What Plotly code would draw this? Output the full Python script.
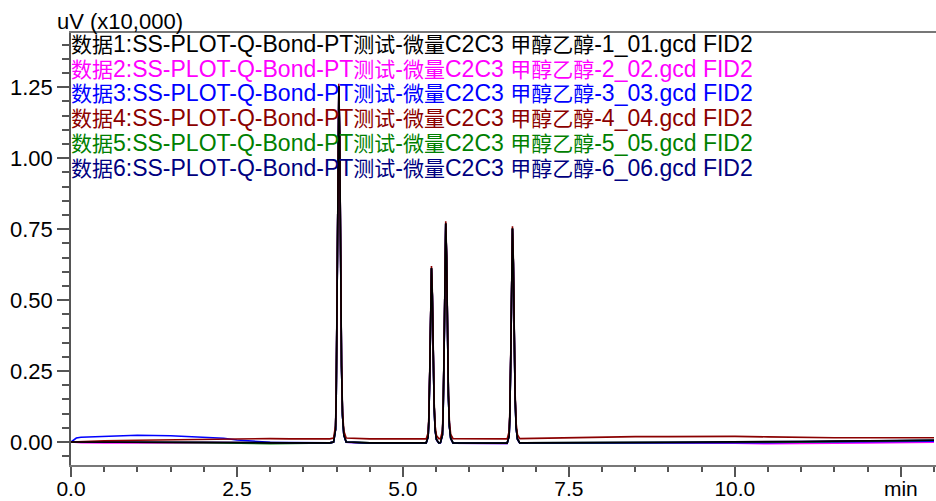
import plotly.graph_objects as go

# Retention times (min), shared by all six traces
times = [
    0.0, 0.08, 0.15, 0.5, 1.0, 1.5, 2.0, 2.3, 2.5, 2.8, 3.0, 3.3, 3.6, 3.9,
    3.955, 3.985, 3.995, 4.010, 4.023, 4.035, 4.048, 4.061, 4.075, 4.090, 4.110, 4.145,
    4.5, 5.0, 5.3,
    5.350, 5.380, 5.390, 5.405, 5.418, 5.430, 5.443, 5.456, 5.470, 5.485, 5.505, 5.540,
    5.565, 5.595, 5.605, 5.620, 5.633, 5.645, 5.658, 5.671, 5.685, 5.700, 5.720, 5.755,
    6.0, 6.3, 6.55,
    6.570, 6.600, 6.610, 6.625, 6.638, 6.650, 6.663, 6.676, 6.690, 6.705, 6.725, 6.760,
    7.0, 7.5, 8.0, 8.5, 9.0, 9.5, 10.0, 10.5, 11.0, 11.5, 12.0, 12.5, 13.0,
]

# Signal (uV x10,000)
data1 = [
    0.0, 0.0, 0.0, 0.0, 0.0, 0.0, -0.001, -0.001, -0.002, -0.002, -0.003, -0.003, -0.003, -0.003,
    0.000, 0.044, 0.157, 0.521, 1.022, 1.254, 1.060, 0.621, 0.270, 0.094, 0.025, 0.000,
    -0.003, -0.003, -0.003,
    -0.003, 0.019, 0.074, 0.251, 0.497, 0.613, 0.515, 0.301, 0.129, 0.043, 0.009, -0.003,
    -0.002, 0.025, 0.094, 0.318, 0.626, 0.771, 0.649, 0.380, 0.164, 0.056, 0.013, -0.003,
    -0.004, -0.004, -0.004,
    -0.004, 0.022, 0.090, 0.308, 0.609, 0.753, 0.632, 0.369, 0.158, 0.052, 0.011, -0.003,
    -0.003, -0.003, -0.002, -0.002, -0.001, 0.0, 0.0, 0.001, 0.002, 0.003, 0.004, 0.005, 0.006,
]
data2 = [
    0.0, -0.001, -0.002, -0.003, -0.004, -0.003, -0.002, -0.002, -0.002, -0.002, -0.003, -0.003, -0.003, -0.003,
    0.000, 0.043, 0.155, 0.518, 1.019, 1.250, 1.058, 0.620, 0.268, 0.093, 0.024, -0.001,
    -0.004, -0.004, -0.004,
    -0.004, 0.018, 0.073, 0.249, 0.495, 0.610, 0.513, 0.300, 0.128, 0.042, 0.008, -0.004,
    -0.003, 0.024, 0.093, 0.316, 0.624, 0.768, 0.647, 0.378, 0.163, 0.055, 0.012, -0.004,
    -0.005, -0.005, -0.005,
    -0.005, 0.021, 0.089, 0.306, 0.607, 0.750, 0.630, 0.367, 0.157, 0.051, 0.010, -0.004,
    -0.004, -0.004, -0.003, -0.003, -0.003, -0.003, -0.004, -0.006, -0.006, -0.004, -0.003, -0.002, -0.001,
]
data3 = [
    0.0, 0.014, 0.017, 0.019, 0.024, 0.022, 0.018, 0.013, 0.007, 0.001, -0.001, -0.002, -0.003, -0.003,
    0.000, 0.044, 0.156, 0.520, 1.020, 1.251, 1.059, 0.620, 0.269, 0.093, 0.024, -0.001,
    -0.004, -0.004, -0.004,
    -0.004, 0.018, 0.073, 0.250, 0.496, 0.611, 0.514, 0.300, 0.128, 0.042, 0.008, -0.004,
    -0.003, 0.024, 0.093, 0.317, 0.625, 0.769, 0.648, 0.379, 0.163, 0.055, 0.012, -0.004,
    -0.005, -0.005, -0.005,
    -0.005, 0.021, 0.089, 0.307, 0.608, 0.751, 0.631, 0.368, 0.157, 0.051, 0.010, -0.004,
    -0.004, -0.004, -0.004, -0.003, -0.003, -0.002, -0.002, -0.002, -0.001, 0.0, 0.001, 0.002, 0.003,
]
data4 = [
    0.0, 0.001, 0.002, 0.004, 0.006, 0.008, 0.010, 0.011, 0.012, 0.013, 0.012, 0.011, 0.011, 0.011,
    0.014, 0.058, 0.171, 0.535, 1.036, 1.262, 1.074, 0.635, 0.284, 0.108, 0.039, 0.014,
    0.011, 0.011, 0.011,
    0.011, 0.033, 0.088, 0.265, 0.511, 0.620, 0.529, 0.315, 0.143, 0.057, 0.023, 0.012,
    0.012, 0.039, 0.108, 0.332, 0.640, 0.778, 0.663, 0.394, 0.178, 0.070, 0.027, 0.012,
    0.011, 0.011, 0.011,
    0.011, 0.037, 0.105, 0.323, 0.624, 0.760, 0.647, 0.384, 0.173, 0.067, 0.026, 0.012,
    0.013, 0.015, 0.018, 0.019, 0.019, 0.020, 0.020, 0.018, 0.016, 0.015, 0.015, 0.015, 0.015,
]
data5 = [
    0.0, 0.0, 0.0, 0.0, -0.001, -0.001, -0.002, -0.003, -0.004, -0.006, -0.006, -0.005, -0.004, -0.003,
    0.000, 0.044, 0.157, 0.521, 1.021, 1.253, 1.060, 0.621, 0.270, 0.094, 0.025, 0.000,
    -0.003, -0.003, -0.003,
    -0.003, 0.019, 0.074, 0.251, 0.497, 0.612, 0.515, 0.301, 0.129, 0.043, 0.009, -0.003,
    -0.002, 0.025, 0.094, 0.318, 0.626, 0.770, 0.649, 0.380, 0.164, 0.056, 0.013, -0.003,
    -0.004, -0.004, -0.004,
    -0.004, 0.022, 0.090, 0.308, 0.609, 0.752, 0.632, 0.369, 0.158, 0.052, 0.011, -0.003,
    -0.003, -0.003, -0.003, -0.002, -0.002, -0.002, -0.002, -0.001, 0.0, 0.001, 0.002, 0.004, 0.006,
]
data6 = [
    0.0, 0.0, 0.0, 0.0, 0.0, 0.0, -0.001, -0.001, -0.001, -0.002, -0.002, -0.003, -0.003, -0.003,
    0.000, 0.044, 0.156, 0.520, 1.021, 1.252, 1.059, 0.621, 0.269, 0.094, 0.025, 0.000,
    -0.003, -0.003, -0.003,
    -0.003, 0.019, 0.074, 0.250, 0.496, 0.612, 0.514, 0.301, 0.129, 0.043, 0.009, -0.003,
    -0.002, 0.025, 0.094, 0.317, 0.625, 0.770, 0.648, 0.379, 0.164, 0.056, 0.013, -0.003,
    -0.004, -0.004, -0.004,
    -0.004, 0.022, 0.090, 0.307, 0.608, 0.752, 0.631, 0.368, 0.158, 0.052, 0.011, -0.003,
    -0.003, -0.003, -0.002, -0.002, -0.001, -0.001, 0.0, 0.001, 0.002, 0.003, 0.004, 0.005, 0.006,
]

series_names = [
    "数据1:SS-PLOT-Q-Bond-PT测试-微量C2C3 甲醇乙醇-1_01.gcd FID2",
    "数据2:SS-PLOT-Q-Bond-PT测试-微量C2C3 甲醇乙醇-2_02.gcd FID2",
    "数据3:SS-PLOT-Q-Bond-PT测试-微量C2C3 甲醇乙醇-3_03.gcd FID2",
    "数据4:SS-PLOT-Q-Bond-PT测试-微量C2C3 甲醇乙醇-4_04.gcd FID2",
    "数据5:SS-PLOT-Q-Bond-PT测试-微量C2C3 甲醇乙醇-5_05.gcd FID2",
    "数据6:SS-PLOT-Q-Bond-PT测试-微量C2C3 甲醇乙醇-6_06.gcd FID2",
]
series_values = [data1, data2, data3, data4, data5, data6]
colors = ["#000000", "#FF00FF", "#0000FF", "#8B0000", "#008000", "#000080"]

x_tickvals = [0.0, 2.5, 5.0, 7.5, 10.0, 12.5]
x_ticktext = ["0.0", "2.5", "5.0", "7.5", "10.0", "min"]
y_tickvals = [0.0, 0.25, 0.5, 0.75, 1.0, 1.25]
y_ticktext = ["0.00", "0.25", "0.50", "0.75", "1.00", "1.25"]
y_title = "uV (x10,000)"

FONT = "Liberation Sans, Arial, Noto Sans CJK SC, sans-serif"
W, H = 936, 501
ML, MR, MT, MB = 71, 0, 33, 36
PW = W - ML - MR
PH = H - MT - MB


def styled(name):
    # CJK glyphs drawn a little narrower than the Latin text, as in the original
    out, buf, cjk = [], "", None
    for ch in name:
        is_cjk = ord(ch) > 0x2E80
        if cjk is None or is_cjk == cjk:
            buf += ch
        else:
            out.append((buf, cjk))
            buf = ch
        cjk = is_cjk
    out.append((buf, cjk))
    return "".join(
        f'<span style="font-size:21px">{s}</span>' if c else s for s, c in out
    )


fig = go.Figure()
draw_order = [1, 2, 4, 5, 3, 0]
for i in draw_order:
    fig.add_trace(go.Scatter(
        x=times, y=series_values[i], mode="lines", name=series_names[i],
        line=dict(color=colors[i], width=1.6), showlegend=False,
    ))

# legend text lines
for i, name in enumerate(series_names):
    yc = 44 + 24.7 * i
    fig.add_annotation(
        text=styled(name), xref="paper", yref="paper",
        x=-2 / PW, y=(H - MB - yc) / PH,
        xanchor="left", yanchor="middle", showarrow=False,
        font=dict(family=FONT, size=23, color=colors[i]),
    )

fig.add_annotation(
    text=y_title, xref="paper", yref="paper",
    x=-16 / PW, y=1 + 11 / PH, xanchor="left", yanchor="middle",
    showarrow=False, font=dict(family=FONT, size=22, color="#000000"),
)

fig.update_layout(
    width=W, height=H,
    margin=dict(l=ML, r=MR, t=MT, b=MB, pad=0),
    paper_bgcolor="white", plot_bgcolor="white",
    font=dict(family=FONT, size=22, color="#000000"),
    showlegend=False,
)
fig.update_xaxes(
    range=[0, 13.03], tickmode="array", tickvals=x_tickvals, ticktext=x_ticktext,
    ticks="outside", ticklen=10, tickwidth=1.5, tickcolor="#555555",
    ticklabelstandoff=-6,
    showline=True, linecolor="#777777", linewidth=2, mirror=True,
    showgrid=False, zeroline=False, automargin=False,
    minor=dict(dtick=0.5, ticks="outside", ticklen=5, tickwidth=1.5, tickcolor="#555555", showgrid=False),
    tickfont=dict(family=FONT, size=21, color="#000000"),
)
fig.update_yaxes(
    range=[-0.081, 1.441], tickmode="array", tickvals=y_tickvals, ticktext=y_ticktext,
    ticks="outside", ticklen=12, tickwidth=1.5, tickcolor="#555555",
    showline=True, linecolor="#555555", linewidth=1.5,
    showgrid=False, zeroline=False, automargin=False,
    minor=dict(dtick=0.05, tick0=0, ticks="outside", ticklen=7, tickwidth=1.5, tickcolor="#555555", showgrid=False),
    tickfont=dict(family=FONT, size=22, color="#000000"),
)

fig.write_html(
    "out.html",
    config={"displayModeBar": False},
    post_script="document.body.style.margin='0';document.body.style.overflow='hidden';",
)
